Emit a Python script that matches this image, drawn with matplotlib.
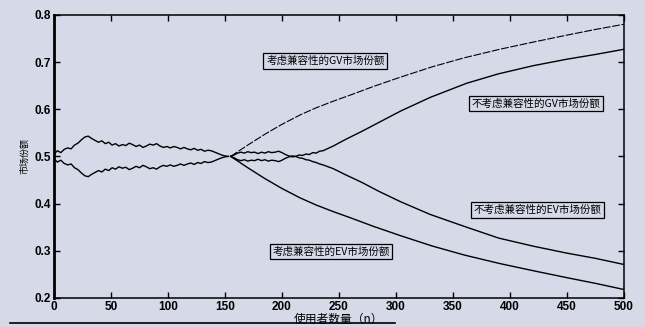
import matplotlib.pyplot as plt
from matplotlib.lines import Line2D

plt.rcParams['font.family'] = ['Noto Sans CJK SC', 'DejaVu Sans']

BG = '#d6d9e8'

# early phase, both scenarios share the same path (n = 0..153, step 3)
n_early = list(range(0, 154, 3))
gv_early = [0.505, 0.512, 0.508, 0.515, 0.518, 0.516, 0.524, 0.528, 0.535, 0.541,
            0.543, 0.538, 0.534, 0.530, 0.533, 0.527, 0.530, 0.524, 0.527, 0.522,
            0.525, 0.523, 0.528, 0.525, 0.521, 0.524, 0.519, 0.522, 0.526, 0.524,
            0.527, 0.522, 0.519, 0.521, 0.518, 0.521, 0.519, 0.516, 0.519, 0.516,
            0.514, 0.517, 0.513, 0.515, 0.511, 0.513, 0.512, 0.509, 0.506, 0.503,
            0.501, 0.500]
ev_early = [0.495, 0.488, 0.492, 0.485, 0.482, 0.484, 0.476, 0.472, 0.465, 0.459,
            0.457, 0.462, 0.466, 0.470, 0.467, 0.473, 0.470, 0.476, 0.473, 0.478,
            0.475, 0.477, 0.472, 0.475, 0.479, 0.476, 0.481, 0.478, 0.474, 0.476,
            0.473, 0.478, 0.481, 0.479, 0.482, 0.479, 0.481, 0.484, 0.481, 0.484,
            0.486, 0.483, 0.487, 0.485, 0.489, 0.487, 0.488, 0.491, 0.494, 0.497,
            0.499, 0.500]

# with compatibility considered
n_cons = [155, 170, 185, 200, 216, 230, 245, 260, 280, 304, 332, 360, 391, 420, 450, 475, 500]
gv_cons = [0.500, 0.524, 0.547, 0.568, 0.588, 0.603, 0.617, 0.630, 0.648, 0.668,
           0.690, 0.709, 0.727, 0.742, 0.757, 0.769, 0.780]
ev_cons = [0.500, 0.476, 0.453, 0.432, 0.412, 0.397, 0.383, 0.370, 0.352, 0.332,
           0.310, 0.291, 0.273, 0.258, 0.243, 0.231, 0.218]

# without compatibility considered
n_not = [155, 158, 161, 164, 167, 170, 173, 176, 179, 182, 185, 188, 191, 194, 197,
         200, 203, 206, 209, 212, 215, 218, 221, 224, 227, 230, 233, 236,
         245, 255, 270, 285, 304, 330, 362, 390, 420, 450, 475, 500]
gv_not = [0.500, 0.503, 0.507, 0.509, 0.507, 0.510, 0.508, 0.509, 0.506, 0.509,
          0.507, 0.510, 0.508, 0.509, 0.511, 0.508, 0.504, 0.501, 0.499, 0.500,
          0.503, 0.502, 0.505, 0.504, 0.508, 0.507, 0.511, 0.512,
          0.522, 0.535, 0.553, 0.572, 0.596, 0.625, 0.655, 0.675, 0.692, 0.706,
          0.716, 0.727]
ev_not = [0.500, 0.497, 0.493, 0.491, 0.493, 0.490, 0.492, 0.491, 0.494, 0.491,
          0.493, 0.490, 0.492, 0.491, 0.489, 0.492, 0.496, 0.499, 0.501, 0.500,
          0.497, 0.496, 0.493, 0.492, 0.489, 0.487, 0.484, 0.482,
          0.474, 0.462, 0.445, 0.426, 0.404, 0.377, 0.350, 0.327, 0.310, 0.295,
          0.284, 0.271]

labels = ['考虑兼容性的GV市场份额', '不考虑兼容性的GV市场份额',
          '不考虑兼容性的EV市场份额', '考虑兼容性的EV市场份额']
label_x = [238, 423, 424, 243]
label_y = [0.702, 0.612, 0.386, 0.299]

fig = plt.figure(figsize=(6.45, 3.27), dpi=100, facecolor=BG)
ax = fig.add_axes([0.0837, 0.0887, 0.8837, 0.866], facecolor=BG)

ax.plot(n_early, gv_early, color='black', lw=1.0)
ax.plot(n_early, ev_early, color='black', lw=1.0)
ax.plot(n_cons, gv_cons, color='black', lw=0.8, ls=(0, (7, 1.5)))
ax.plot(n_cons, ev_cons, color='black', lw=1.0)
ax.plot(n_not, gv_not, color='black', lw=1.0)
ax.plot(n_not, ev_not, color='black', lw=1.0)

for txt, x, y in zip(labels, label_x, label_y):
    ax.text(x, y, txt, fontsize=7.6, ha='center', va='center',
            bbox=dict(boxstyle='square,pad=0.25', fc=BG, ec='black', lw=0.9))

ax.set_xlim(0, 500)
ax.set_ylim(0.2, 0.8)
ax.set_xticks(range(0, 501, 50))
ax.set_yticks([0.2, 0.3, 0.4, 0.5, 0.6, 0.7, 0.8])
ax.tick_params(direction='in', length=4, width=1, top=True, right=True,
               labelsize=8.5, pad=2)
for lab in ax.get_xticklabels() + ax.get_yticklabels():
    lab.set_fontweight('bold')
    lab.set_family(['Liberation Sans', 'DejaVu Sans'])
for side in ['top', 'right', 'bottom']:
    ax.spines[side].set_linewidth(1.1)
ax.spines['left'].set_linewidth(2.0)

ax.set_xlabel('使用者数量（n）', fontsize=8.5, labelpad=0)
ax.set_ylabel('市场份额', fontsize=6.5, labelpad=4)

# rule printed under the chart
fig.add_artist(Line2D([10 / 645, 395 / 645], [4 / 327, 4 / 327],
                      color='black', lw=1.2, transform=fig.transFigure))

fig.savefig('out.png', dpi=100, facecolor=BG)
